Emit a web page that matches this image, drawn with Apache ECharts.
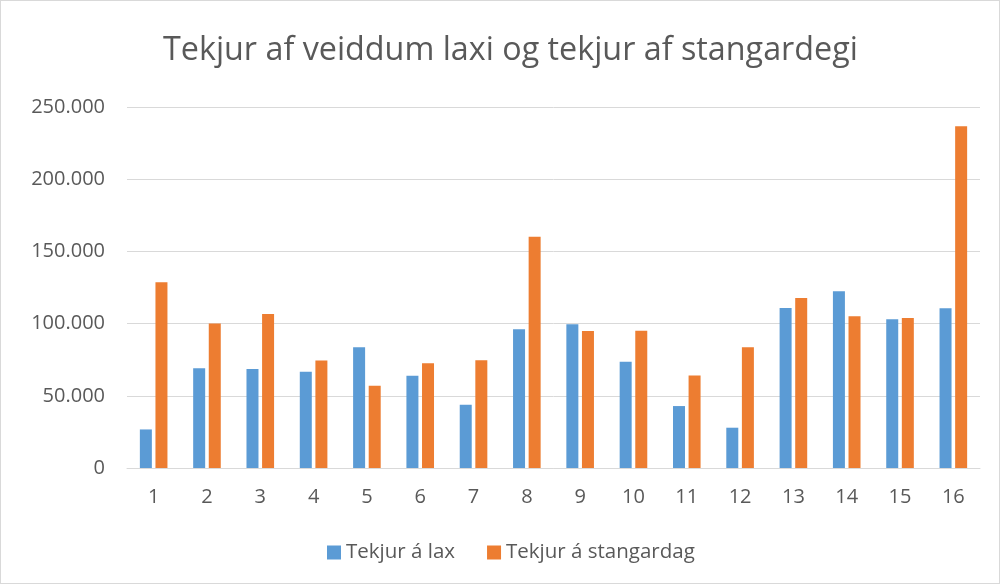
<!DOCTYPE html>
<html>
<head>
<meta charset="utf-8">
<script src="https://cdn.jsdelivr.net/npm/echarts@6/dist/echarts.min.js"></script>
<style>
  html, body { margin: 0; padding: 0; background: #fff; }
  #main { width: 998px; height: 582px; border: 1px solid #d9d9d9; }
</style>
</head>
<body>
<div id="main"></div>
<script>
var categories = ['1','2','3','4','5','6','7','8','9','10','11','12','13','14','15','16'];
var tekjurLax = [26700, 69100, 68600, 66600, 83600, 63800, 43800, 96100, 99600, 73500, 42900, 27900, 110800, 122400, 103000, 110600];
var tekjurStangardag = [128600, 100000, 106700, 74400, 56900, 72600, 74700, 160100, 94900, 95100, 64000, 83600, 117700, 105100, 103900, 236700];

function fmt(v) {
  return String(v).replace(/\B(?=(\d{3})+(?!\d))/g, '.');
}

var myChart = echarts.init(document.getElementById('main'));
var option = {
  animation: false,
  textStyle: { fontFamily: 'Open Sans', color: '#595959' },
  title: {
    text: 'Tekjur af veiddum laxi og tekjur af stangardegi',
    left: 157,
    top: 29,
    textStyle: { fontSize: 32.3, fontWeight: 'normal', color: '#595959', fontFamily: 'Open Sans' }
  },
  legend: {
    bottom: 15,
    left: 321,
    itemWidth: 14,
    itemHeight: 14,
    itemGap: 32,
    itemTextGap: 6,
    icon: 'rect',
    textStyle: { fontSize: 20.5, color: '#595959' },
    data: ['Tekjur á lax', 'Tekjur á stangardag']
  },
  grid: { left: 126, right: 19, top: 106, bottom: 115, containLabel: false },
  xAxis: {
    type: 'category',
    data: categories,
    axisLine: { lineStyle: { color: '#d9d9d9', width: 1 } },
    axisTick: { show: false },
    axisLabel: { fontSize: 20, color: '#595959', margin: 19 }
  },
  yAxis: {
    type: 'value',
    min: 0,
    max: 250000,
    interval: 50000,
    axisLine: { show: false },
    axisTick: { show: false },
    splitLine: { lineStyle: { color: '#d9d9d9', width: 1 } },
    axisLabel: { fontSize: 20, color: '#595959', margin: 22, formatter: fmt }
  },
  series: [
    {
      name: 'Tekjur á lax',
      type: 'bar',
      data: tekjurLax,
      barWidth: 12,
      barGap: '30%',
      itemStyle: { color: '#5b9bd5' }
    },
    {
      name: 'Tekjur á stangardag',
      type: 'bar',
      data: tekjurStangardag,
      barWidth: 12,
      itemStyle: { color: '#ed7d31' }
    }
  ]
};
myChart.setOption(option);
</script>
</body>
</html>
